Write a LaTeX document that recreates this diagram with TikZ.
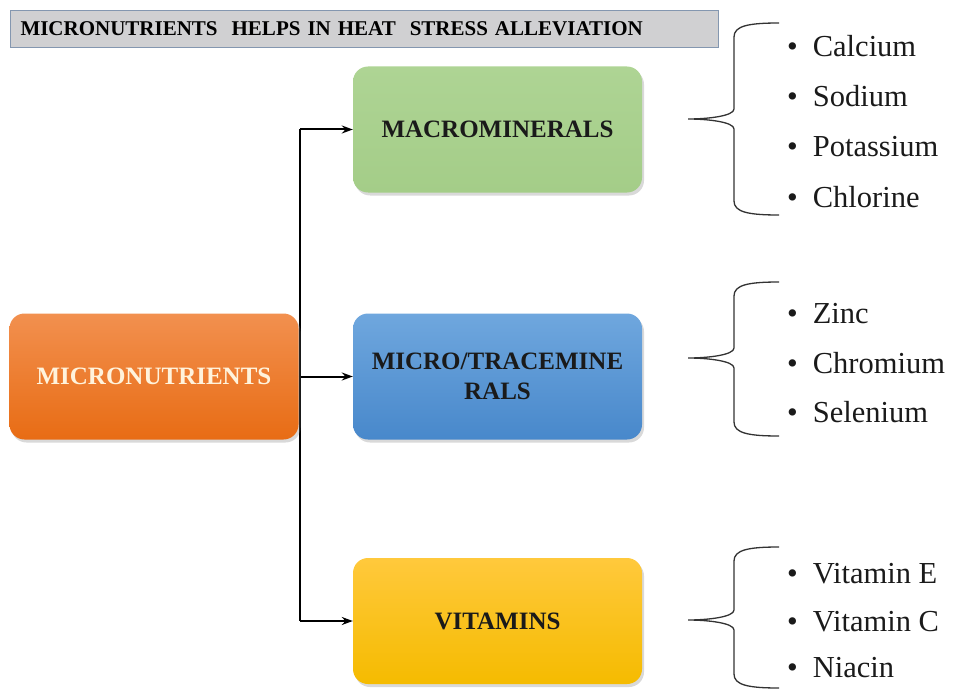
\documentclass[tikz,border=0pt]{standalone}
\usepackage{fontspec}
\setmainfont{Liberation Serif}
\usepackage{xcolor}
\usepackage{tikz}
\usetikzlibrary{positioning,calc,arrows.meta,shadows,backgrounds}

\definecolor{titlegray}{HTML}{D0D0D2}
\definecolor{titleedge}{HTML}{8497B0}
\definecolor{orangetop}{HTML}{F2904F}
\definecolor{orangebot}{HTML}{E86C14}
\definecolor{greentop}{HTML}{AED494}
\definecolor{greenbot}{HTML}{A4CD88}
\definecolor{bluetop}{HTML}{6FA7DE}
\definecolor{bluebot}{HTML}{4888CB}
\definecolor{yellowtop}{HTML}{FFC93C}
\definecolor{yellowbot}{HTML}{F5BB00}
\definecolor{inkdark}{HTML}{1A1A1A}
\definecolor{creamtext}{HTML}{FFF3DC}

\tikzset{
  catbox/.style={rounded corners=15pt, minimum width=289pt, minimum height=126pt,
    align=center, inner sep=4pt, text=inkdark,
    font=\fontsize{25}{30}\selectfont\bfseries,
    drop shadow={shadow xshift=2pt, shadow yshift=-3pt, opacity=0.3}},
  titlebox/.style={draw=titleedge, line width=1pt, fill=titlegray,
    text width=688pt, inner xsep=10pt, minimum height=37pt, align=left,
    font=\fontsize{21}{24}\selectfont\bfseries, text=black},
  itemtext/.style={inner sep=0pt, text=inkdark, font=\fontsize{30.5}{36}\selectfont},
  link/.style={line width=2pt, black},
  linkarrow/.style={link, -{Stealth[length=11pt,width=8pt]}},
  bracepen/.style={line width=1.3pt, black!80}
}

% curly brace with long arms: top y, tip y, bottom y
\newcommand{\listbrace}[3]{%
  \draw[bracepen] (779,#1) .. controls (748,#1) and (734,#1+3) .. (734,#1+14)
    -- (734,#2-10) .. controls (734,#2-3) and (708,#2) .. (688,#2)
    .. controls (708,#2) and (734,#2+3) .. (734,#2+10)
    -- (734,#3-14) .. controls (734,#3-3) and (748,#3) .. (779,#3);}

\begin{document}
\begin{tikzpicture}[x=1pt, y=-1pt]
    \useasboundingbox (0,0) rectangle (953,690);

    % Title
    \node[titlebox, anchor=north west] (title) at (10,10)
        {MICRONUTRIENTS\ \ HELPS IN HEAT\ \ STRESS ALLEVIATION};

    % Boxes
    \node[catbox, top color=orangetop, bottom color=orangebot, text=creamtext] (micro) at (154,376.5) {MICRONUTRIENTS};
    \node[catbox, top color=greentop, bottom color=greenbot] (macro) at (497.5,129.5) {MACROMINERALS};
    \node[catbox, top color=bluetop, bottom color=bluebot] (trace) at (497.5,376.5) {MICRO/TRACEMINE\\RALS};
    \node[catbox, top color=yellowtop, bottom color=yellowbot] (vit) at (497.5,621) {VITAMINS};

    % Connectors
    \begin{pgfonlayer}{background}
    \coordinate (jtop) at (300,129.5);
    \coordinate (jbot) at (300,621);
    \draw[link] (jtop) -- (jbot);
    \draw[linkarrow] (jtop) -- (macro.west);
    \draw[linkarrow] (micro.east) -- (trace.west);
    \draw[linkarrow] (jbot) -- (vit.west);
    \end{pgfonlayer}

    % Braces
    \listbrace{23}{119}{215}
    \listbrace{282}{358}{436}
    \listbrace{547}{620}{688}

    % Macrominerals
    \node[itemtext, anchor=base west] (ca) at (787,57) {\textbullet\hspace{15pt}Calcium};
    \node[itemtext, anchor=base west] (na) at (787,107) {\textbullet\hspace{15pt}Sodium};
    \node[itemtext, anchor=base west] (k) at (787,157) {\textbullet\hspace{15pt}Potassium};
    \node[itemtext, anchor=base west] (cl) at (787,207) {\textbullet\hspace{15pt}Chlorine};

    % Trace minerals
    \node[itemtext, anchor=base west] (zn) at (787,323) {\textbullet\hspace{15pt}Zinc};
    \node[itemtext, anchor=base west] (cr) at (787,373) {\textbullet\hspace{15pt}Chromium};
    \node[itemtext, anchor=base west] (se) at (787,422) {\textbullet\hspace{15pt}Selenium};

    % Vitamins
    \node[itemtext, anchor=base west] (ve) at (787,583) {\textbullet\hspace{15pt}Vitamin E};
    \node[itemtext, anchor=base west] (vc) at (787,631) {\textbullet\hspace{15pt}Vitamin C};
    \node[itemtext, anchor=base west] (ni) at (787,677) {\textbullet\hspace{15pt}Niacin};
\end{tikzpicture}
\end{document}
